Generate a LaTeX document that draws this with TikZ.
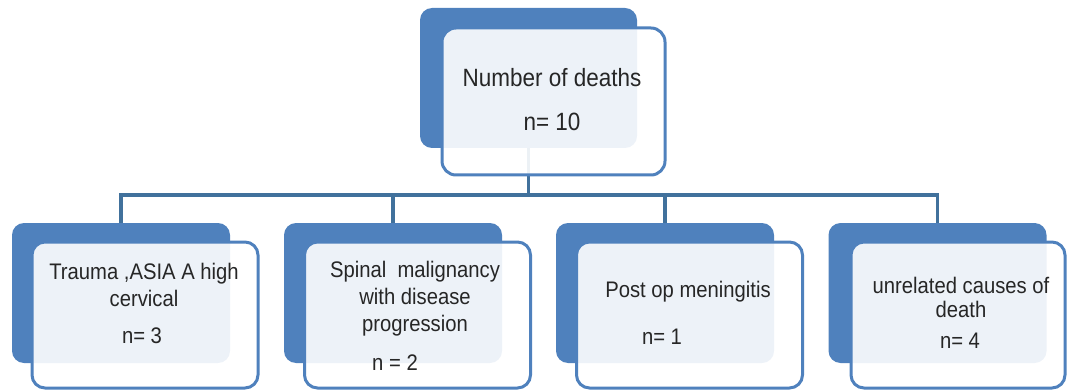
\documentclass[tikz,border=0pt]{standalone}
\usepackage{fontspec}
\setmainfont{Liberation Sans}[FakeStretch=0.9]
\usetikzlibrary{positioning}
\definecolor{smblue}{HTML}{4F81BD}
\definecolor{lineblue}{HTML}{41719C}

\begin{document}
\begin{tikzpicture}[
        x=1pt, y=-1pt,
        back/.style={fill=smblue, rounded corners=12pt, minimum width=218pt, minimum height=140pt, inner sep=0pt},
        front/.style={draw=smblue, line width=3pt, fill=white, fill opacity=0.9, rounded corners=13pt, minimum width=226pt, minimum height=146pt, inner sep=0pt},
        link/.style={draw=lineblue, line width=3.5pt},
        lbl/.style={font=\fontsize{22.5}{27}\selectfont, align=center, anchor=base, inner sep=0pt, text=black!85},
        toplbl/.style={lbl, font=\fontsize{25}{30}\selectfont},
    ]
    \useasboundingbox (0,0) rectangle (1067,390);

    %% Back boxes
    \node[back, minimum width=217pt] (topback) at (528.5,78) {};
    \node[back] (b1back) at (121,293) {};
    \node[back] (b2back) at (393,293) {};
    \node[back] (b3back) at (665,293) {};
    \node[back] (b4back) at (937.5,293) {};

    %% Hierarchy lines
    \coordinate (bar) at (528.5,195);
    \draw[link] (b1back.north) |- (bar) -| (b4back.north);
    \draw[link] (topback.south) -- (bar);
    \draw[link] (b2back.north) -- (b2back.north |- bar);
    \draw[link] (b3back.north) -- (b3back.north |- bar);

    %% Front boxes
    \node[front, minimum width=223pt, minimum height=147pt, rounded corners=14pt] (topfront) at (553.5,101.5) {};
    \node[front] (b1front) at (145,315) {};
    \node[front] (b2front) at (417.5,315) {};
    \node[front] (b3front) at (689.5,315) {};
    \node[front, minimum width=214pt] (b4front) at (958,315) {};

    %% Labels (base = last line)
    \node[toplbl] (toptxt) at (552,87) {Number of deaths};
    \node[toplbl] (topn) at (552,131) {n= 10};

    \node[lbl] (t1) at (144,306) {Trauma ,ASIA A high\\cervical};
    \node[lbl] (n1) at (142,343) {n= 3};

    \node[lbl] (t2) at (415,331) {Spinal\ \ malignancy\\with disease\\progression};
    \node[lbl] (n2) at (395,370) {n = 2};

    \node[lbl] (t3) at (688,297) {Post op meningitis};
    \node[lbl] (n3) at (662,344) {n= 1};

    \node[lbl, font=\fontsize{22.5}{24}\selectfont] (t4) at (961,317) {unrelated causes of\\death};
    \node[lbl] (n4) at (960,348) {n= 4};

\end{tikzpicture}
\end{document}
